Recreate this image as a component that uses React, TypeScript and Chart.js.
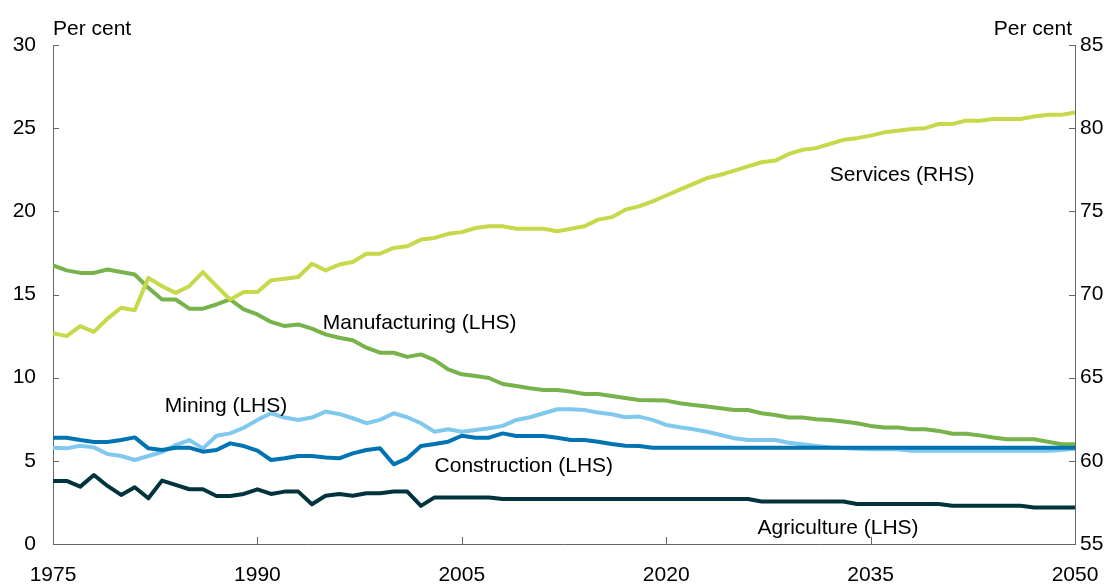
import { useEffect, useRef } from 'react';
import { Chart, registerables } from 'chart.js';

Chart.register(...registerables);

const YEARS = [
  1975, 1976, 1977, 1978, 1979, 1980, 1981, 1982, 1983, 1984,
  1985, 1986, 1987, 1988, 1989, 1990, 1991, 1992, 1993, 1994,
  1995, 1996, 1997, 1998, 1999, 2000, 2001, 2002, 2003, 2004,
  2005, 2006, 2007, 2008, 2009, 2010, 2011, 2012, 2013, 2014,
  2015, 2016, 2017, 2018, 2019, 2020, 2021, 2022, 2023, 2024,
  2025, 2026, 2027, 2028, 2029, 2030, 2031, 2032, 2033, 2034,
  2035, 2036, 2037, 2038, 2039, 2040, 2041, 2042, 2043, 2044,
  2045, 2046, 2047, 2048, 2049, 2050,
];

// Right-hand scale (per cent)
const SERVICES = [
  67.67, 67.5, 68.1, 67.75, 68.55, 69.2, 69.05, 71.0, 70.5, 70.1,
  70.5, 71.35, 70.5, 69.7, 70.15, 70.15, 70.85, 70.95, 71.05, 71.85,
  71.45, 71.8, 71.95, 72.45, 72.45, 72.8, 72.9, 73.3, 73.4, 73.65,
  73.75, 74.0, 74.1, 74.1, 73.95, 73.95, 73.95, 73.8, 73.95, 74.1,
  74.5, 74.65, 75.1, 75.3, 75.6, 75.95, 76.3, 76.65, 77.0, 77.2,
  77.45, 77.7, 77.95, 78.05, 78.45, 78.7, 78.8, 79.05, 79.3, 79.4,
  79.55, 79.75, 79.85, 79.95, 80.0, 80.25, 80.25, 80.45, 80.45, 80.55,
  80.55, 80.55, 80.7, 80.8, 80.8, 80.95,
];

// Left-hand scale (per cent)
const MANUFACTURING = [
  16.75, 16.45, 16.3, 16.3, 16.5, 16.35, 16.2, 15.4, 14.7, 14.7,
  14.15, 14.15, 14.4, 14.7, 14.1, 13.8, 13.35, 13.1, 13.2, 12.95,
  12.6, 12.4, 12.25, 11.8, 11.5, 11.5, 11.25, 11.4, 11.05, 10.5,
  10.2, 10.1, 9.98, 9.62, 9.5, 9.36, 9.26, 9.26, 9.16, 9.02,
  9.02, 8.9, 8.78, 8.66, 8.64, 8.62, 8.46, 8.36, 8.26, 8.16,
  8.06, 8.06, 7.86, 7.76, 7.6, 7.6, 7.5, 7.46, 7.36, 7.26,
  7.1, 7.0, 7.0, 6.9, 6.9, 6.8, 6.63, 6.63, 6.53, 6.4,
  6.3, 6.3, 6.3, 6.15, 6.0, 6.0,
];

const MINING = [
  5.79, 5.75, 5.91, 5.81, 5.41, 5.29, 5.05, 5.29, 5.53, 5.95,
  6.25, 5.75, 6.51, 6.65, 6.99, 7.46, 7.86, 7.6, 7.46, 7.6,
  7.96, 7.82, 7.56, 7.26, 7.46, 7.86, 7.62, 7.26, 6.75, 6.9,
  6.75, 6.86, 6.96, 7.1, 7.46, 7.62, 7.86, 8.1, 8.1, 8.06,
  7.9, 7.8, 7.62, 7.66, 7.46, 7.16, 7.02, 6.9, 6.75, 6.55,
  6.36, 6.25, 6.25, 6.25, 6.09, 6.0, 5.9, 5.8, 5.77, 5.72,
  5.7, 5.7, 5.7, 5.6, 5.6, 5.6, 5.6, 5.6, 5.6, 5.6,
  5.6, 5.6, 5.6, 5.6, 5.65, 5.72,
];

const CONSTRUCTION = [
  6.39, 6.39, 6.25, 6.13, 6.13, 6.25, 6.41, 5.75, 5.65, 5.79,
  5.79, 5.55, 5.65, 6.05, 5.89, 5.61, 5.05, 5.15, 5.29, 5.29,
  5.2, 5.15, 5.45, 5.65, 5.75, 4.79, 5.15, 5.89, 6.01, 6.15,
  6.51, 6.39, 6.39, 6.65, 6.49, 6.49, 6.49, 6.39, 6.25, 6.25,
  6.15, 6.01, 5.91, 5.89, 5.79, 5.79, 5.79, 5.79, 5.79, 5.79,
  5.79, 5.79, 5.79, 5.79, 5.79, 5.79, 5.79, 5.79, 5.79, 5.79,
  5.79, 5.79, 5.79, 5.79, 5.79, 5.79, 5.79, 5.79, 5.79, 5.79,
  5.79, 5.79, 5.79, 5.79, 5.79, 5.79,
];

const AGRICULTURE = [
  3.79, 3.79, 3.45, 4.15, 3.49, 2.95, 3.41, 2.75, 3.81, 3.55,
  3.29, 3.29, 2.89, 2.89, 3.01, 3.29, 3.01, 3.15, 3.15, 2.39,
  2.9, 3.01, 2.9, 3.05, 3.05, 3.15, 3.15, 2.29, 2.8, 2.8,
  2.8, 2.8, 2.8, 2.7, 2.7, 2.7, 2.7, 2.7, 2.7, 2.7,
  2.7, 2.7, 2.7, 2.7, 2.7, 2.7, 2.7, 2.7, 2.7, 2.7,
  2.7, 2.7, 2.55, 2.55, 2.55, 2.55, 2.55, 2.55, 2.55, 2.4,
  2.4, 2.4, 2.4, 2.4, 2.4, 2.4, 2.3, 2.3, 2.3, 2.3,
  2.3, 2.3, 2.2, 2.2, 2.2, 2.2,
];

const X_TICKS = [1975, 1990, 2005, 2020, 2035, 2050];
const UNIT_LABEL = 'Per cent';

const SERIES_LABELS = [
  { text: 'Services (RHS)', x: 2032.0, y: 76.82, axis: 'y1' },
  { text: 'Manufacturing (LHS)', x: 1994.8, y: 12.9, axis: 'y' },
  { text: 'Mining (LHS)', x: 1983.2, y: 7.92, axis: 'y' },
  { text: 'Construction (LHS)', x: 2003.0, y: 4.35, axis: 'y' },
  { text: 'Agriculture (LHS)', x: 2026.7, y: 0.58, axis: 'y' },
];

const FONT_FAMILY = "'Liberation Sans', Arial, sans-serif";
const FONT_SIZE = 21;
const AXIS_COLOR = '#666666';

const COLORS = {
  services: '#C7D84A',
  manufacturing: '#77B24A',
  mining: '#80C8EE',
  construction: '#0073B2',
  agriculture: '#00343D',
};

const pts = (vals: number[]) => YEARS.map((yr, i) => ({ x: yr, y: vals[i] }));

const overlayPlugin = {
  id: 'overlay',
  afterDraw(chart: any) {
    const { ctx, chartArea, scales } = chart;
    const { left, right, top, bottom } = chartArea;
    ctx.save();
    ctx.strokeStyle = AXIS_COLOR;
    ctx.lineWidth = 1;
    ctx.beginPath();
    scales.y.ticks.forEach((t: any) => {
      const py = Math.round(scales.y.getPixelForValue(t.value)) + 0.5;
      ctx.moveTo(left, py);
      ctx.lineTo(left + 6, py);
    });
    scales.y1.ticks.forEach((t: any) => {
      const py = Math.round(scales.y1.getPixelForValue(t.value)) + 0.5;
      ctx.moveTo(right - 6, py);
      ctx.lineTo(right, py);
    });
    scales.x.ticks.forEach((t: any) => {
      const px = Math.round(scales.x.getPixelForValue(t.value)) + 0.5;
      ctx.moveTo(px, bottom);
      ctx.lineTo(px, bottom - 7);
    });
    ctx.stroke();

    ctx.fillStyle = '#000';
    ctx.font = `${FONT_SIZE}px ${FONT_FAMILY}`;
    ctx.textBaseline = 'alphabetic';
    ctx.textAlign = 'left';
    ctx.fillText(UNIT_LABEL, left, top - 10);
    ctx.textAlign = 'right';
    ctx.fillText(UNIT_LABEL, right - 3, top - 10);

    ctx.textAlign = 'left';
    SERIES_LABELS.forEach((l) => {
      const px = scales.x.getPixelForValue(l.x);
      const py = scales[l.axis].getPixelForValue(l.y);
      ctx.fillText(l.text, px, py);
    });
    ctx.restore();
  },
};

export default function App() {
  const canvasRef = useRef<HTMLCanvasElement | null>(null);

  useEffect(() => {
    const canvas = canvasRef.current;
    if (!canvas) return;
    const line = (label: string, vals: number[], color: string, axis: string) => ({
      label,
      data: pts(vals),
      borderColor: color,
      backgroundColor: color,
      borderWidth: 4,
      pointRadius: 0,
      tension: 0,
      yAxisID: axis,
      borderJoinStyle: 'round' as const,
      borderCapStyle: 'butt' as const,
    });
    const tickFont = { family: FONT_FAMILY, size: FONT_SIZE };
    const chart = new Chart(canvas, {
      type: 'line',
      data: {
        datasets: [
          line('Services (RHS)', SERVICES, COLORS.services, 'y1'),
          line('Construction (LHS)', CONSTRUCTION, COLORS.construction, 'y'),
          line('Agriculture (LHS)', AGRICULTURE, COLORS.agriculture, 'y'),
          line('Manufacturing (LHS)', MANUFACTURING, COLORS.manufacturing, 'y'),
          line('Mining (LHS)', MINING, COLORS.mining, 'y'),
        ],
      },
      options: {
        responsive: false,
        animation: false,
        devicePixelRatio: 1,
        layout: { padding: { top: 45, left: 0, right: 0, bottom: 0 } },
        plugins: {
          legend: { display: false },
          tooltip: { enabled: false },
        },
        scales: {
          x: {
            type: 'linear',
            min: 1975,
            max: 2050,
            afterBuildTicks: (s: any) => {
              s.ticks = X_TICKS.map((v) => ({ value: v }));
            },
            ticks: {
              font: tickFont,
              color: '#000',
              padding: 19,
              maxRotation: 0,
              autoSkip: false,
              callback: (v: any) => String(v),
            },
            grid: { display: false, drawTicks: false },
            border: { display: true, color: AXIS_COLOR, width: 1 },
            afterFit: (s: any) => {
              s.height = 41;
            },
          },
          y: {
            position: 'left',
            min: 0,
            max: 30,
            ticks: { stepSize: 5, font: tickFont, color: '#000', padding: 17 },
            grid: { display: false, drawTicks: false },
            border: { display: true, color: AXIS_COLOR, width: 1 },
            afterFit: (s: any) => {
              s.width = 53;
            },
          },
          y1: {
            position: 'right',
            min: 55,
            max: 85,
            ticks: { stepSize: 5, font: tickFont, color: '#000', padding: 5 },
            grid: { display: false, drawTicks: false },
            border: { display: true, color: AXIS_COLOR, width: 1 },
            afterFit: (s: any) => {
              s.width = 45;
            },
          },
        },
      },
      plugins: [overlayPlugin],
    } as any);
    return () => chart.destroy();
  }, []);

  return (
    <div style={{ position: 'absolute', left: 0, top: 0, width: 1120, height: 585, background: '#fff' }}>
      <canvas ref={canvasRef} width={1120} height={585} style={{ display: 'block' }} />
    </div>
  );
}
